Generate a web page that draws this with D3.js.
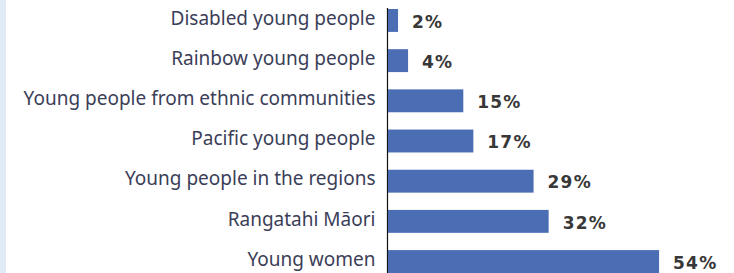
<!DOCTYPE html>
<html>
<head>
<meta charset="utf-8">
<script src="https://cdn.jsdelivr.net/npm/d3@7"></script>
<style>
  html, body { margin: 0; padding: 0; background: #fff; }
  svg { display: block; }
</style>
</head>
<body>
<svg id="chart" width="734" height="273"></svg>
<script>
// Data
const categories = [
    "Disabled young people",
    "Rainbow young people",
    "Young people from ethnic communities",
    "Pacific young people",
    "Young people in the regions",
    "Rangatahi M\u0101ori",
    "Young women"
];
const values = [2, 4, 15, 17, 29, 32, 54];

const svg = d3.select("svg#chart");

// light blue strip on the left edge
svg.append("rect")
    .attr("x", 0).attr("y", 0)
    .attr("width", 6).attr("height", 273)
    .attr("fill", "#e0ebf7");

// Scales
const x = d3.scaleLinear().domain([0, 100]).range([388, 890]);
const y = d3.scaleBand()
    .domain(categories)
    .range([9, 273])
    .paddingInner(0.43)
    .paddingOuter(0);

// Left axis with category labels
const axis = svg.append("g")
    .attr("class", "axis")
    .attr("transform", "translate(387.5,0)")
    .call(d3.axisLeft(y).tickSize(0).tickPadding(12));

axis.select(".domain")
    .attr("stroke", "#111")
    .attr("stroke-width", 1.2)
    .attr("d", "M0," + (y.range()[0] - 1) + "V" + 273);

axis.selectAll(".tick text")
    .attr("font-family", "'Noto Sans', sans-serif")
    .attr("font-size", 19)
    .attr("fill", "#3b3e58")
    .attr("dy", "0.22em");

// Bars
svg.selectAll(".bar")
    .data(values)
    .enter().append("rect")
    .attr("class", "bar")
    .attr("x", x(0))
    .attr("y", (d, i) => y(categories[i]))
    .attr("width", (d) => x(d) - x(0))
    .attr("height", y.bandwidth())
    .attr("fill", "#4a6db4");

// Value labels
svg.selectAll(".val")
    .data(values)
    .enter().append("text")
    .attr("class", "val")
    .attr("x", (d) => x(d) + 14)
    .attr("y", (d, i) => y(categories[i]) + y.bandwidth() / 2)
    .attr("dy", "0.42em")
    .attr("font-family", "'DejaVu Sans', sans-serif")
    .attr("font-weight", "bold")
    .attr("font-size", 17)
    .attr("letter-spacing", 1.2)
    .attr("fill", "#383838")
    .text((d) => d + "%");
</script>
</body>
</html>
